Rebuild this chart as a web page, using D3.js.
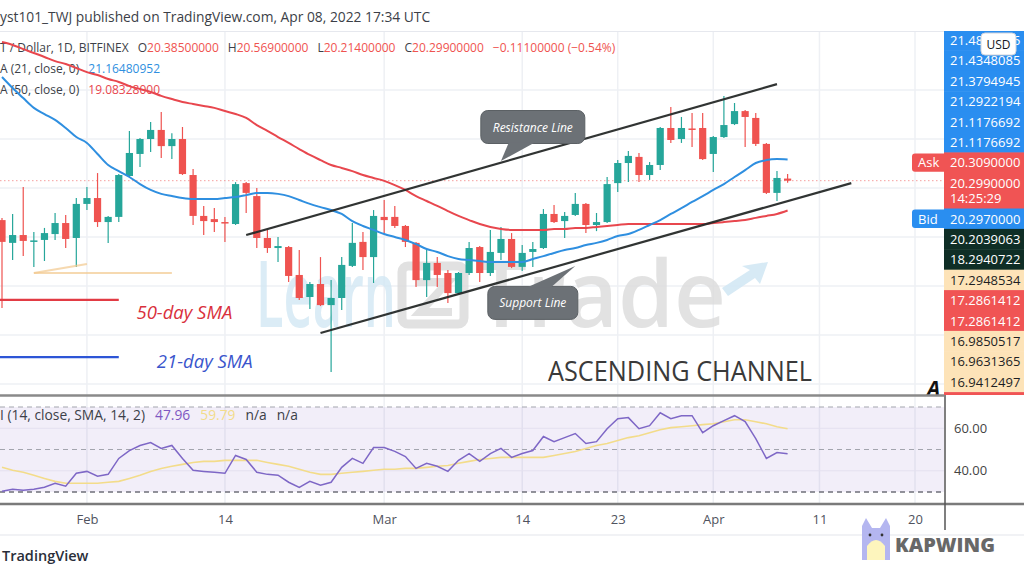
<!DOCTYPE html>
<html>
<head>
<meta charset="utf-8">
<script src="https://cdn.jsdelivr.net/npm/d3@7"></script>
<style>
  html, body { margin: 0; padding: 0; background: #fff; }
  svg { display: block; font-family: "Open Sans", sans-serif; }
</style>
</head>
<body>
<div id="chart"></div>
<script>
// daily candles: [date, open, high, low, close]
const candles = [
  ["2022-01-24",18.69,18.78,15.10,17.80],["2022-01-25",17.76,18.94,17.06,18.08],
  ["2022-01-26",18.08,20.04,17.22,17.84],["2022-01-27",17.82,18.20,16.78,17.86],
  ["2022-01-28",17.88,18.37,17.02,18.16],["2022-01-29",18.12,18.98,17.88,18.57],
  ["2022-01-30",18.57,18.90,17.55,17.92],["2022-01-31",17.96,19.59,16.78,19.35],
  ["2022-02-01",19.35,20.04,19.10,19.59],["2022-02-02",19.59,20.61,18.41,18.61],
  ["2022-02-03",18.61,18.86,17.76,18.82],["2022-02-04",18.82,20.57,18.61,20.53],
  ["2022-02-05",20.49,22.33,20.45,21.43],["2022-02-06",21.39,22.04,20.86,22.00],
  ["2022-02-07",22.00,22.69,21.47,22.37],["2022-02-08",22.37,23.10,21.22,21.71],
  ["2022-02-09",21.71,22.24,21.18,22.00],["2022-02-10",22.00,22.49,20.53,20.57],
  ["2022-02-11",20.53,20.78,18.49,18.86],["2022-02-12",18.86,19.27,18.08,18.65],
  ["2022-02-13",18.73,19.18,18.20,18.61],["2022-02-14",18.61,18.82,17.80,18.55],
  ["2022-02-15",18.53,20.24,18.49,20.16],["2022-02-16",20.20,20.24,18.98,19.80],
  ["2022-02-17",19.67,20.00,17.55,17.96],["2022-02-18",17.96,18.29,17.35,17.55],
  ["2022-02-19",17.55,18.00,16.98,17.63],["2022-02-20",17.59,17.63,16.16,16.41],
  ["2022-02-21",16.45,17.47,15.43,15.51],["2022-02-22",15.55,16.16,15.06,16.08],
  ["2022-02-23",16.08,17.18,15.18,15.22],["2022-02-24",15.22,16.24,12.49,15.51],
  ["2022-02-25",15.51,17.18,15.02,16.86],["2022-02-26",16.82,18.57,16.78,17.76],
  ["2022-02-27",17.80,18.20,16.65,17.18],["2022-02-28",17.18,19.10,16.12,18.86],
  ["2022-03-01",18.82,19.51,18.16,18.69],["2022-03-02",18.82,19.27,18.37,18.45],
  ["2022-03-03",18.45,18.49,17.59,17.80],["2022-03-04",17.76,17.80,15.96,16.24],
  ["2022-03-05",16.24,17.51,15.55,16.94],["2022-03-06",16.94,17.18,15.96,16.45],
  ["2022-03-07",16.53,16.65,15.31,15.71],["2022-03-08",15.71,16.57,15.67,16.53],
  ["2022-03-09",16.53,17.80,16.45,17.55],["2022-03-10",17.59,17.63,16.16,16.53],
  ["2022-03-11",16.53,18.29,16.41,17.39],["2022-03-12",17.35,18.41,17.06,17.92],
  ["2022-03-13",17.92,18.16,16.73,16.78],["2022-03-14",16.78,17.67,16.61,17.35],
  ["2022-03-15",17.39,17.80,16.78,17.51],["2022-03-16",17.55,19.14,17.51,18.94],
  ["2022-03-17",18.94,19.31,18.57,18.61],["2022-03-18",18.65,19.02,17.96,18.86],
  ["2022-03-19",18.90,19.80,18.86,19.35],["2022-03-20",19.35,19.39,18.16,18.49],
  ["2022-03-21",18.49,18.98,18.24,18.61],["2022-03-22",18.61,20.45,18.57,20.16],
  ["2022-03-23",20.20,21.14,19.84,21.02],["2022-03-24",21.02,21.51,20.24,21.31],
  ["2022-03-25",21.27,21.43,20.24,20.53],["2022-03-26",20.53,21.06,20.33,20.94],
  ["2022-03-27",20.94,22.49,20.73,22.45],["2022-03-28",22.45,23.31,21.84,21.96],
  ["2022-03-29",22.00,22.90,21.84,22.45],["2022-03-30",22.43,23.06,21.67,22.37],
  ["2022-03-31",22.45,23.06,21.14,21.18],["2022-04-01",21.39,22.12,20.65,22.08],
  ["2022-04-02",22.08,23.76,22.04,22.57],["2022-04-03",22.61,23.47,22.57,23.14],
  ["2022-04-04",23.14,23.18,21.67,22.90],["2022-04-05",22.86,23.06,21.71,21.80],
  ["2022-04-06",21.80,21.84,19.76,19.80],["2022-04-07",19.80,20.69,19.47,20.41],
  ["2022-04-08",20.385,20.569,20.214,20.299]
];

// moving averages, same days as candles
const sma21 = [
  24.53,24.08,23.67,23.27,23.02,22.78,22.45,22.08,
  21.84,21.39,20.94,20.69,20.45,20.16,19.92,19.76,19.67,19.59,19.55,19.55,19.55,19.59,
  19.63,19.71,19.80,19.80,19.76,19.67,19.51,19.35,19.22,19.10,18.94,18.65,18.45,18.29,
  18.12,18.00,17.88,17.71,17.51,17.39,17.22,17.10,17.06,17.02,16.98,16.98,16.98,16.98,
  17.10,17.22,17.35,17.47,17.55,17.67,17.76,17.88,18.04,18.12,18.29,18.49,18.69,18.94,
  19.18,19.43,19.67,
  19.92,20.16,20.45,20.73,21.02,21.14,21.18,21.16
];
const sma50 = [
  25.96,25.84,25.67,25.51,25.35,25.18,25.06,24.90,
  24.73,24.61,24.45,24.33,24.16,24.04,23.92,23.76,23.63,23.51,23.43,23.35,23.27,23.14,
  23.02,22.86,22.57,22.33,22.08,21.84,21.59,21.35,21.14,20.94,20.82,20.69,20.53,20.41,
  20.29,20.12,19.92,19.67,19.47,19.27,19.06,18.86,18.69,18.53,18.41,18.33,18.29,18.29,
  18.29,18.29,18.33,18.33,18.37,18.37,18.41,18.45,18.49,18.53,18.53,18.53,18.53,18.53,
  18.53,18.53,18.53,
  18.57,18.61,18.65,18.69,18.78,18.86,18.94,19.08
];

// RSI(14) and its SMA(14)
const rsi = [
  30.4,31.3,30.8,31.3,32.2,34.1,32.7,38.8,
  39.7,37.4,38.3,45.8,49.5,51.9,53.3,50.5,51.9,45.8,40.2,39.7,39.3,38.8,
  47.2,45.3,39.3,38.3,37.9,34.6,32.2,35.0,33.2,34.6,41.6,45.8,43.5,50.9,
  50.9,49.1,46.7,41.1,43.5,42.1,39.7,44.9,48.1,44.4,48.1,50.5,46.3,48.1,
  49.5,56.1,53.7,55.6,57.5,52.8,53.7,59.8,64.5,65.0,59.8,61.2,67.3,64.5,
  65.9,65.9,57.9,
  61.2,63.6,65.9,63.1,55.1,45.8,48.6,47.96
];
const rsiMa = [
  41.6,40.2,39.3,37.9,36.4,35.0,34.1,34.1,
  34.1,34.1,34.6,35.0,36.4,37.9,39.7,41.1,42.1,43.0,43.9,44.4,44.4,44.9,
  44.9,44.9,44.9,43.9,43.0,42.1,40.7,39.3,38.3,38.3,38.8,39.3,39.7,40.2,
  40.7,40.7,41.1,41.1,41.6,42.1,42.5,43.5,44.4,45.3,45.8,46.3,46.3,46.3,
  46.3,46.3,47.2,48.1,49.1,50.5,51.9,52.8,54.2,55.6,56.5,57.9,59.3,60.3,
  60.7,61.2,61.7,
  62.1,63.1,64.0,64.0,63.1,62.1,60.7,59.79
];

const timeTicks  = ["2022-02-01","2022-02-14","2022-03-01","2022-03-14","2022-03-23","2022-04-01","2022-04-11","2022-04-20"];
const timeLabels = ["Feb","14","Mar","14","23","Apr","11","20"];
const priceGrid  = [12, 14, 16, 18, 20, 22, 24];
const rsiBands   = [70, 50, 30];
const rsiTicks   = [40, 60];

// drawings: [startTime, startPrice, endTime, endPrice]
const channelLines = [
  ["2022-02-16", 18.08, "2022-04-07", 24.24],   // resistance
  ["2022-02-23", 14.08, "2022-04-14", 20.20]    // support
];
const tanLines = [
  ["2022-01-27", 16.53, "2022-02-09", 16.53],
  ["2022-01-27", 16.53, "2022-02-01", 16.90]
];
const legendLines = [
  { label: "50-day SMA", price: 15.43, from: "2022-01-23", to: "2022-02-04", color: "#e23b44", textColor: "#d9303c", textAt: "2022-02-05T16:00", textPrice: 14.65 },
  { label: "21-day SMA", price: 13.10, from: "2022-01-23", to: "2022-02-04", color: "#2d55d6", textColor: "#3a55cc", textAt: "2022-02-07T14:00", textPrice: 12.65 }
];
const callouts = [
  { text: "Resistance Line", date: "2022-03-15", price: 22.49, w: 104, tipDate: "2022-03-12", tipPrice: 21.10, base: [-24, 2] },
  { text: "Support Line",    date: "2022-03-15", price: 15.31, w: 90,  tipDate: "2022-03-19", tipPrice: 16.82, base: [-6, 18] }
];

// right price scale stack: [text, colour, extra line]
const scaleLabels = [
  ["21.4848885","blue"],["21.4348085","blue"],["21.3794945","blue"],["21.2922194","blue"],
  ["21.1176692","blue"],["21.1176692","blue"],["20.3090000","red"],["20.2990000","red","14:25:29"],
  ["20.2970000","blue"],["20.2039063","dark"],["18.2940722","dark"],["17.2948534","tan"],
  ["17.2861412","red"],["17.2861412","red"],["16.9850517","tan"],["16.9631365","tan"],
  ["16.9412497","tan"],["16.1757211","red"]
];
const scaleTags = { 6: "Ask", 8: "Bid" };

const W = 1024, H = 576, paneR = 944;
const col = {
  up: "#26a69a", down: "#ef5350", blue: "#2f8fe0", red: "#e8474e",
  grid: "#eef0f4", text: "#3c3f48"
};
const tagFill = { blue: "#2a8ef0", red: "#f05454", dark: "#0f2e26", tan: "#fde3b8" };

const parseDay = d3.utcParse("%Y-%m-%d");
const parseT = s => s.length > 10 ? d3.utcParse("%Y-%m-%dT%H:%M")(s) : parseDay(s);
const days = candles.map(d => parseDay(d[0]));

const x  = d3.scaleUtc().domain([parseDay("2022-01-24"), parseDay("2022-04-20")]).range([2, 915]);
const y  = d3.scaleLinear().domain([11.55, 26.45]).range([395, 30]);
const yR = d3.scaleLinear().domain([30, 70]).range([492, 407]);

const svg = d3.select("#chart").append("svg")
  .attr("width", W).attr("height", H)
  .attr("viewBox", [0, 0, W, H]);

svg.append("rect").attr("width", W).attr("height", H).attr("fill", "#fff");

const defs = svg.append("defs");
defs.append("clipPath").attr("id", "clipMain")
  .append("rect").attr("x", 0).attr("y", 31).attr("width", paneR).attr("height", 364);
defs.append("clipPath").attr("id", "clipRsi")
  .append("rect").attr("x", 0).attr("y", 396).attr("width", paneR).attr("height", 108);

// ---------- grids ----------
svg.append("g").selectAll("line").data(priceGrid).join("line")
  .attr("x1", 0).attr("x2", paneR)
  .attr("y1", d => y(d)).attr("y2", d => y(d))
  .attr("stroke", col.grid).attr("stroke-width", 1.5);

svg.append("g").selectAll("line").data(timeTicks).join("line")
  .attr("x1", d => x(parseDay(d))).attr("x2", d => x(parseDay(d)))
  .attr("y1", 31).attr("y2", 504)
  .attr("stroke", col.grid).attr("stroke-width", 1.5);

svg.append("line").attr("x1", 0).attr("x2", paneR).attr("y1", 31.5).attr("y2", 31.5)
  .attr("stroke", "#e6e8ee");

// ---------- watermark ----------
const wm = svg.append("g").attr("clip-path", "url(#clipMain)");
wm.append("text").attr("x", 256).attr("y", 327)
  .attr("font-size", 92).attr("font-weight", 600)
  .attr("textLength", 140).attr("lengthAdjust", "spacingAndGlyphs")
  .attr("fill", "#d3e8f4").attr("opacity", 0.8).text("Learn");
wm.append("rect").attr("x", 402).attr("y", 266).attr("width", 62).attr("height", 58).attr("rx", 6)
  .attr("fill", "none").attr("stroke", "#d9d9d9").attr("stroke-width", 9).attr("opacity", 0.8);
wm.append("path").attr("d", "M415,282 L448,282 L420,312 L452,312")
  .attr("fill", "none").attr("stroke", "#d9d9d9").attr("stroke-width", 8).attr("opacity", 0.8);
wm.append("text").attr("x", 476).attr("y", 327)
  .attr("font-size", 92).attr("font-weight", 600)
  .attr("textLength", 250).attr("lengthAdjust", "spacingAndGlyphs")
  .attr("fill", "#dcdcdc").attr("opacity", 0.8).text("Trade");
wm.append("path").attr("d", "M722,288 L750,270 L742,266 L768,262 L760,284 L755,278 L728,296 Z")
  .attr("fill", "#d3e8f4").attr("opacity", 0.9);

// ---------- header legend ----------
svg.append("text").attr("x", 0).attr("y", 22)
  .attr("font-size", 13.8).attr("fill", col.text)
  .text("yst101_TWJ published on TradingView.com, Apr 08, 2022 17:34 UTC");

const ohlc = candles[candles.length - 1];
const legend = svg.append("g").attr("font-size", 12).attr("fill", col.text);
const l1 = legend.append("text").attr("x", 0).attr("y", 52);
l1.append("tspan").text("T / Dollar, 1D, BITFINEX");
[["O", ohlc[1]], ["H", ohlc[2]], ["L", ohlc[3]], ["C", ohlc[4]]].forEach(([k, v]) => {
  l1.append("tspan").attr("dx", 9).text(k);
  l1.append("tspan").attr("fill", col.down).text(v.toFixed(8));
});
l1.append("tspan").attr("dx", 9).attr("fill", col.down)
  .text(`${(ohlc[4] - 20.41).toFixed(8).replace("-", "\u2212")} (\u22120.54%)`);

const l2 = legend.append("text").attr("x", 0).attr("y", 73);
l2.append("tspan").text("A (21, close, 0)");
l2.append("tspan").attr("dx", 9).attr("fill", col.blue).text("21.16480952");
const l3 = legend.append("text").attr("x", 0).attr("y", 94);
l3.append("tspan").text("A (50, close, 0)");
l3.append("tspan").attr("dx", 9).attr("fill", col.red).text("19.08328000");

// ---------- main pane ----------
const main = svg.append("g").attr("clip-path", "url(#clipMain)");

// last price line
main.append("line")
  .attr("x1", 0).attr("x2", paneR)
  .attr("y1", y(ohlc[4])).attr("y2", y(ohlc[4]))
  .attr("stroke", col.down).attr("stroke-dasharray", "1.5,2.5").attr("opacity", 0.55);

const cg = main.append("g").selectAll("g").data(candles).join("g")
  .attr("fill", d => d[4] >= d[1] ? col.up : col.down)
  .attr("stroke", d => d[4] >= d[1] ? col.up : col.down);
cg.append("line")
  .attr("x1", d => x(parseDay(d[0]))).attr("x2", d => x(parseDay(d[0])))
  .attr("y1", d => y(d[2])).attr("y2", d => y(d[3]))
  .attr("stroke-width", 1.2);
cg.append("rect")
  .attr("stroke", "none")
  .attr("x", d => x(parseDay(d[0])) - 3.6).attr("width", 7.2)
  .attr("y", d => y(Math.max(d[1], d[4])))
  .attr("height", d => Math.max(1.5, Math.abs(y(d[1]) - y(d[4]))));

const line = d3.line().x((d, i) => x(days[i])).y(d => y(d)).curve(d3.curveMonotoneX);
main.append("path").attr("d", line(sma50)).attr("fill", "none")
  .attr("stroke", col.red).attr("stroke-width", 2);
main.append("path").attr("d", line(sma21)).attr("fill", "none")
  .attr("stroke", col.blue).attr("stroke-width", 2);

// drawings
const seg = (g, data, stroke, w, op) => g.append("g").selectAll("line").data(data).join("line")
  .attr("x1", d => x(parseT(d[0]))).attr("y1", d => y(d[1]))
  .attr("x2", d => x(parseT(d[2]))).attr("y2", d => y(d[3]))
  .attr("stroke", stroke).attr("stroke-width", w).attr("opacity", op);
seg(main, tanLines, "#f3c98f", 2, 0.7);
seg(main, channelLines, "#262a29", 2.2, 0.95);

legendLines.forEach(l => {
  main.append("line")
    .attr("x1", x(parseT(l.from))).attr("x2", x(parseT(l.to)))
    .attr("y1", y(l.price)).attr("y2", y(l.price))
    .attr("stroke", l.color).attr("stroke-width", 2.2);
  main.append("text")
    .attr("x", x(parseT(l.textAt))).attr("y", y(l.textPrice))
    .attr("font-size", 18.5).attr("font-style", "italic")
    .attr("fill", l.textColor).text(l.label);
});

callouts.forEach(c => {
  const cx = x(parseT(c.date)), cy = y(c.price), h = 33;
  const tx = x(parseT(c.tipDate)), ty = y(c.tipPrice);
  const edge = ty > cy ? cy + h / 2 - 1 : cy - h / 2 + 1;
  const g = main.append("g");
  g.append("rect").attr("x", cx - c.w / 2).attr("y", cy - h / 2)
    .attr("width", c.w).attr("height", h).attr("rx", 7)
    .attr("fill", "#6c7176").attr("stroke", "#5b6064");
  g.append("path")
    .attr("d", `M${cx + c.base[0]},${edge} L${tx},${ty} L${cx + c.base[1]},${edge} Z`)
    .attr("fill", "#6c7176");
  g.append("text").attr("x", cx).attr("y", cy + 4.5)
    .attr("text-anchor", "middle").attr("font-size", 12).attr("font-style", "italic")
    .attr("fill", "#fff").text(c.text);
});

main.append("text").attr("x", 548).attr("y", 381)
  .attr("font-size", 27).attr("fill", "#3a3a3a")
  .attr("textLength", 264).attr("lengthAdjust", "spacingAndGlyphs")
  .text("ASCENDING CHANNEL");

svg.append("text").attr("x", 927).attr("y", 396)
  .attr("font-size", 21).attr("font-weight", 700).attr("font-style", "italic")
  .attr("fill", "#111").text("A");

// ---------- right price scale ----------
const rowH = 20.4;
let acc = 30;
const rows = scaleLabels.map((d, i) => {
  const h = d[2] ? rowH * 1.75 : rowH;
  const r = { i, text: d[0], kind: d[1], sub: d[2], top: acc, h };
  acc += h;
  return r;
});
const sc = svg.append("g");
sc.append("clipPath").attr("id", "clipScale")
  .append("rect").attr("x", 900).attr("y", 31).attr("width", 124).attr("height", 364);
const scg = sc.append("g").attr("clip-path", "url(#clipScale)");
scg.selectAll("rect.lab").data(rows).join("rect").attr("class", "lab")
  .attr("x", paneR).attr("width", W - paneR)
  .attr("y", d => d.top).attr("height", d => d.h + 0.5)
  .attr("fill", d => tagFill[d.kind]);
scg.selectAll("text.lab").data(rows).join("text").attr("class", "lab")
  .attr("x", 950).attr("y", d => d.top + 15)
  .attr("font-size", 13)
  .attr("fill", d => d.kind === "tan" ? "#1d1f24" : "#fff")
  .text(d => d.text);
scg.selectAll("text.sub").data(rows.filter(d => d.sub)).join("text").attr("class", "sub")
  .attr("x", 950).attr("y", d => d.top + 30)
  .attr("font-size", 13).attr("fill", "#fff").text(d => d.sub);
Object.entries(scaleTags).forEach(([i, t]) => {
  const r = rows[+i];
  scg.append("rect").attr("x", 912).attr("y", r.top + 1).attr("width", 36).attr("height", r.h - 2)
    .attr("rx", 3).attr("fill", tagFill[r.kind]);
  scg.append("text").attr("x", 918).attr("y", r.top + 15)
    .attr("font-size", 13).attr("fill", "#fff").text(t);
});
sc.append("rect").attr("x", 981).attr("y", 33).attr("width", 35).attr("height", 22).attr("rx", 4)
  .attr("fill", "#fff").attr("stroke", "#d0d3db");
sc.append("text").attr("x", 998.5).attr("y", 48.5).attr("text-anchor", "middle")
  .attr("font-size", 12).attr("fill", "#131722").text("USD");

// ---------- RSI pane ----------
const rp = svg.append("g").attr("clip-path", "url(#clipRsi)");
rp.append("rect").attr("x", 0).attr("width", paneR + 1)
  .attr("y", yR(70)).attr("height", yR(30) - yR(70))
  .attr("fill", "#7e57c2").attr("opacity", 0.1);
rp.selectAll("line.g").data(rsiTicks).join("line").attr("class", "g")
  .attr("x1", 0).attr("x2", paneR).attr("y1", d => yR(d)).attr("y2", d => yR(d))
  .attr("stroke", "#e4e0ef").attr("stroke-width", 1);
rp.selectAll("line.b").data(rsiBands).join("line").attr("class", "b")
  .attr("x1", 0).attr("x2", paneR).attr("y1", d => yR(d)).attr("y2", d => yR(d))
  .attr("stroke", d => d === 30 ? "#6f7079" : "#a3a5ae")
  .attr("stroke-width", d => d === 30 ? 1.5 : 1)
  .attr("stroke-dasharray", "5,4");

const rline = d3.line().x((d, i) => x(days[i])).y(d => yR(d));
rp.append("path").attr("d", rline(rsiMa)).attr("fill", "none")
  .attr("stroke", "#f3dc8a").attr("stroke-width", 1.6);
rp.append("path").attr("d", rline(rsi)).attr("fill", "none")
  .attr("stroke", "#7e67c6").attr("stroke-width", 1.5);

const rl = svg.append("text").attr("x", 0).attr("y", 420).attr("font-size", 13.8).attr("fill", col.text);
rl.append("tspan").text("I (14, close, SMA, 14, 2)");
rl.append("tspan").attr("dx", 10).attr("fill", "#7e57c2").text(rsi[rsi.length - 1].toFixed(2));
rl.append("tspan").attr("dx", 10).attr("fill", "#f3dc8a").text(rsiMa[rsiMa.length - 1].toFixed(2));
rl.append("tspan").attr("dx", 10).text("n/a");
rl.append("tspan").attr("dx", 10).text("n/a");

const ry = svg.append("g").attr("transform", `translate(${paneR},0)`)
  .call(d3.axisRight(yR).tickValues(rsiTicks).tickFormat(d3.format(".2f")).tickSize(0).tickPadding(10));
ry.select(".domain").remove();
ry.selectAll("text").attr("font-size", 13).attr("fill", "#444").attr("font-family", "Open Sans, sans-serif");

// pane separators
svg.append("line").attr("x1", 0).attr("x2", paneR).attr("y1", 395.5).attr("y2", 395.5)
  .attr("stroke", "#8a8a8a").attr("stroke-width", 2.5);
svg.append("line").attr("x1", 0).attr("x2", W).attr("y1", 504).attr("y2", 504)
  .attr("stroke", "#7a7a7a").attr("stroke-width", 2.5);
svg.append("line").attr("x1", paneR + 1).attr("x2", paneR + 1).attr("y1", 395).attr("y2", 530)
  .attr("stroke", "#555").attr("stroke-width", 1.5);
svg.append("line").attr("x1", 0).attr("x2", W).attr("y1", 535).attr("y2", 535)
  .attr("stroke", "#eceef2").attr("stroke-width", 1.5);

// ---------- time axis ----------
const ax = svg.append("g").attr("transform", "translate(0,515)")
  .call(d3.axisBottom(x)
    .tickValues(timeTicks.map(parseDay))
    .tickFormat((d, i) => timeLabels[i])
    .tickSize(0).tickPadding(0));
ax.select(".domain").remove();
ax.selectAll("text").attr("font-size", 13).attr("fill", "#50535e").attr("font-family", "Open Sans, sans-serif");

// ---------- footer ----------
svg.append("text").attr("x", 2).attr("y", 561)
  .attr("font-size", 14.5).attr("font-weight", 600).attr("fill", "#2a2e39").text("TradingView");

const kp = svg.append("g");
kp.append("path").attr("d", "M862,560 L862,526 L866,518 L872,528 L880,528 L886,518 L890,526 L890,560 Z")
  .attr("fill", "#b4b6f0");
kp.append("path").attr("d", "M867,560 L867,546 Q876,534 885,546 L885,560 Z").attr("fill", "#fdf5bd");
kp.append("circle").attr("cx", 870).attr("cy", 535).attr("r", 1.4).attr("fill", "#333");
kp.append("circle").attr("cx", 882).attr("cy", 535).attr("r", 1.4).attr("fill", "#333");
kp.append("text").attr("x", 895).attr("y", 552)
  .attr("font-size", 20).attr("font-weight", 800).attr("fill", "#686868")
  .attr("textLength", 100).attr("lengthAdjust", "spacingAndGlyphs").text("KAPWING");
</script>
</body>
</html>
